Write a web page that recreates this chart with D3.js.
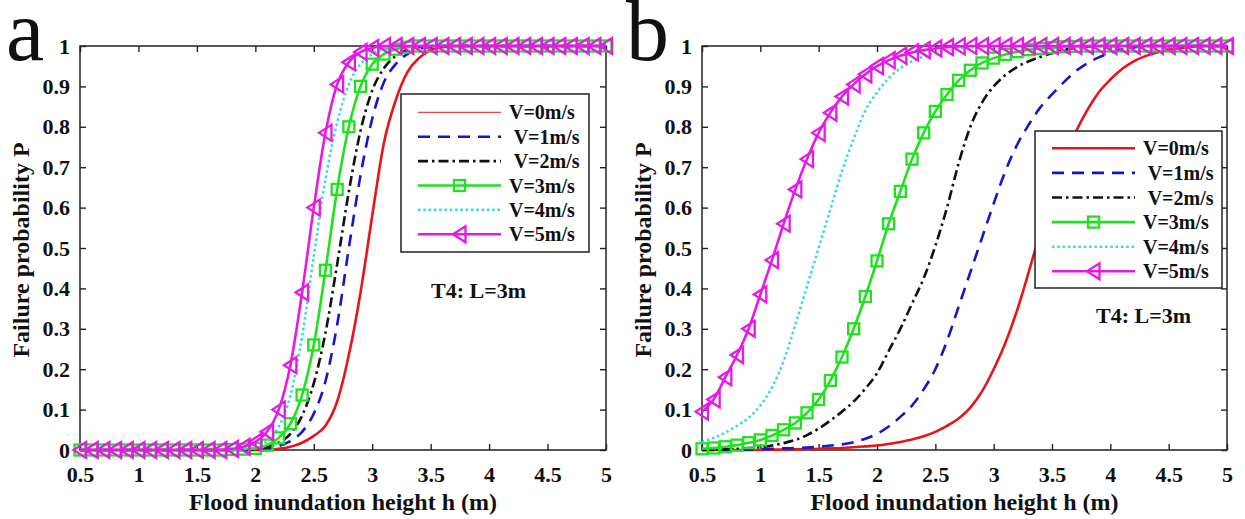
<!DOCTYPE html>
<html><head><meta charset="utf-8">
<script src="https://cdn.jsdelivr.net/npm/d3@7"></script>
<style>
body{margin:0;background:#fff}
svg{display:block}
text{font-family:"Liberation Serif","Times New Roman",serif;fill:#111}
</style>
</head><body><svg id="c" width="1245" height="519"></svg>
<script>
// ---------------- DATA ----------------
const H = [0.5,0.6,0.7,0.8,0.9,1.0,1.1,1.2,1.3,1.4,1.5,1.6,1.7,1.8,1.9,2.0,2.1,2.2,2.3,2.4,2.5,2.6,2.7,2.8,2.9,3.0,3.1,3.2,3.3,3.4,3.5,3.6,3.7,3.8,3.9,4.0,4.1,4.2,4.3,4.4,4.5,4.6,4.7,4.8,4.9,5.0];
const seriesLabels = ["V=0m/s"," V=1m/s"," V=2m/s","V=3m/s","V=4m/s","V=5m/s"];
const xTickValues = [0.5,1,1.5,2,2.5,3,3.5,4,4.5,5];
const xTickLabels = ["0.5","1","1.5","2","2.5","3","3.5","4","4.5","5"];
const yTickValues = [0,0.1,0.2,0.3,0.4,0.5,0.6,0.7,0.8,0.9,1];
const yTickLabels = ["0","0.1","0.2","0.3","0.4","0.5","0.6","0.7","0.8","0.9","1"];
const panelLetters = ["a","b"];
const xTitle = "Flood inundation height h (m)";
const yTitle = "Failure probability P";
const noteText = "T4: L=3m";

// panel a
const a_V0 = [0,0,0,0,0,0,0,0,0,0,0,0,0,0,0,0,0,0.003,0.008,0.018,0.035,0.06,0.12,0.235,0.39,0.58,0.76,0.865,0.935,0.97,0.99,0.997,1,1,1,1,1,1,1,1,1,1,1,1,1,1];
const a_V1 = [0,0,0,0,0,0,0,0,0,0,0,0,0,0,0,0,0.003,0.01,0.022,0.045,0.09,0.17,0.31,0.50,0.68,0.82,0.91,0.955,0.98,0.993,0.998,1,1,1,1,1,1,1,1,1,1,1,1,1,1,1];
const a_V2 = [0,0,0,0,0,0,0,0,0,0,0,0,0,0,0,0.002,0.007,0.018,0.04,0.085,0.165,0.29,0.46,0.64,0.79,0.89,0.945,0.975,0.99,0.997,1,1,1,1,1,1,1,1,1,1,1,1,1,1,1,1];
const a_V3 = [0,0,0,0,0,0,0,0,0,0,0,0,0,0.001,0.002,0.004,0.012,0.03,0.065,0.136,0.26,0.445,0.645,0.80,0.90,0.955,0.98,0.992,0.997,1,1,1,1,1,1,1,1,1,1,1,1,1,1,1,1,1];
const a_V4 = [0,0,0,0,0,0,0,0,0,0,0,0,0,0,0.003,0.008,0.022,0.058,0.135,0.28,0.48,0.67,0.81,0.905,0.955,0.98,0.993,0.998,1,1,1,1,1,1,1,1,1,1,1,1,1,1,1,1,1,1];
const a_V5 = [0,0,0,0,0,0,0,0,0,0,0,0,0,0.003,0.008,0.02,0.045,0.10,0.21,0.39,0.60,0.785,0.905,0.96,0.985,0.995,1,1,1,1,1,1,1,1,1,1,1,1,1,1,1,1,1,1,1,1];
// panel b
const b_V0 = [0,0,0,0,0,0,0.001,0.001,0.002,0.002,0.003,0.004,0.005,0.007,0.009,0.011,0.015,0.02,0.026,0.034,0.045,0.06,0.078,0.105,0.145,0.20,0.265,0.345,0.44,0.54,0.635,0.717,0.785,0.84,0.885,0.917,0.943,0.962,0.975,0.984,0.99,0.995,0.998,1,1,1];
const b_V1 = [0,0,0.001,0.001,0.001,0.002,0.003,0.004,0.005,0.006,0.008,0.011,0.014,0.019,0.028,0.04,0.058,0.082,0.11,0.15,0.20,0.27,0.355,0.44,0.525,0.61,0.69,0.755,0.805,0.848,0.88,0.91,0.937,0.957,0.972,0.983,0.991,0.996,1,1,1,1,1,1,1,1];
const b_V2 = [0.001,0.001,0.002,0.003,0.005,0.007,0.011,0.017,0.025,0.037,0.053,0.073,0.095,0.12,0.152,0.19,0.245,0.30,0.362,0.425,0.505,0.60,0.71,0.80,0.86,0.90,0.928,0.948,0.962,0.973,0.982,0.99,0.995,0.998,1,1,1,1,1,1,1,1,1,1,1,1];
const b_V3 = [0.003,0.005,0.008,0.012,0.018,0.025,0.036,0.05,0.067,0.092,0.125,0.172,0.23,0.30,0.38,0.468,0.56,0.64,0.72,0.785,0.838,0.88,0.915,0.94,0.958,0.97,0.979,0.986,0.991,0.994,0.996,0.998,0.999,1,1,1,1,1,1,1,1,1,1,1,1,1];
const b_V4 = [0.02,0.03,0.043,0.06,0.08,0.11,0.155,0.22,0.31,0.405,0.50,0.595,0.69,0.77,0.84,0.885,0.92,0.945,0.962,0.974,0.982,0.988,0.993,0.996,0.998,1,1,1,1,1,1,1,1,1,1,1,1,1,1,1,1,1,1,1,1,1];
const b_V5 = [0.095,0.125,0.18,0.235,0.30,0.385,0.47,0.56,0.645,0.72,0.785,0.835,0.875,0.905,0.93,0.95,0.965,0.976,0.984,0.99,0.994,0.997,0.999,1,1,1,1,1,1,1,1,1,1,1,1,1,1,1,1,1,1,1,1,1,1,1];

// ---------------- STYLES ----------------
const styles = [
  {color:"#e8141a", dash:null, marker:null},
  {color:"#1717c8", dash:"12,8", marker:null},
  {color:"#111111", dash:"10,4,2.5,4", marker:null},
  {color:"#1ee21e", dash:null, marker:"square"},
  {color:"#3cd8e0", dash:"2.5,2.8", marker:null},
  {color:"#e619e6", dash:null, marker:"tri"}
];

const svg = d3.select("#c");

function drawMarker(g, type, color, x, y){
  if(type==="square"){
    g.append("rect").attr("x",x-5.5).attr("y",y-5.5).attr("width",11).attr("height",11)
      .attr("fill","none").attr("stroke",color).attr("stroke-width",2.3);
  } else if(type==="tri"){
    g.append("path").attr("d",`M${x-6.5},${y} L${x+6},${y-8} L${x+6},${y+8} Z`)
      .attr("fill","none").attr("stroke",color).attr("stroke-width",2.3).attr("stroke-linejoin","miter");
  }
}

function drawPanel(cfg){
  const x = d3.scaleLinear().domain([0.5,5]).range([cfg.left,cfg.right]);
  const y = d3.scaleLinear().domain([0,1]).range([cfg.bottom,cfg.top]);
  const g = svg.append("g");

  const fmtX = d => xTickLabels[xTickValues.indexOf(d)];
  const fmtY = d => yTickLabels[yTickValues.indexOf(d)];
  const axB = g.append("g").attr("transform",`translate(0,${cfg.bottom})`)
    .call(d3.axisBottom(x).tickValues(xTickValues).tickFormat(fmtX).tickSize(-6).tickPadding(16));
  const axL = g.append("g").attr("transform",`translate(${cfg.left},0)`)
    .call(d3.axisLeft(y).tickValues(yTickValues).tickFormat(fmtY).tickSize(-6).tickPadding(10));
  const axT = g.append("g").attr("transform",`translate(0,${cfg.top})`)
    .call(d3.axisTop(x).tickValues(xTickValues).tickFormat("").tickSize(-6));
  const axR = g.append("g").attr("transform",`translate(${cfg.right},0)`)
    .call(d3.axisRight(y).tickValues(yTickValues).tickFormat("").tickSize(-6));
  [axB,axL,axT,axR].forEach(a=>{
    a.select(".domain").remove();
    a.selectAll("line").attr("stroke","#222").attr("stroke-width",1.4);
    a.selectAll("text").attr("font-size",22).attr("font-weight","bold").attr("fill","#111")
      .style("font-family",'"Liberation Serif","Times New Roman",serif');
  });
  g.append("rect").attr("x",cfg.left).attr("y",cfg.top)
    .attr("width",cfg.right-cfg.left).attr("height",cfg.bottom-cfg.top)
    .attr("fill","none").attr("stroke","#222").attr("stroke-width",1.5);

  const line = d3.line().x((d,i)=>x(H[i])).y(d=>y(d)).curve(d3.curveMonotoneX);
  cfg.series.forEach((vals,k)=>{
    const s = styles[k];
    g.append("path").datum(vals).attr("d",line).attr("fill","none")
      .attr("stroke",s.color).attr("stroke-width",2.6)
      .attr("stroke-dasharray",s.dash).attr("stroke-linecap","butt");
    if(s.marker){
      const mg = g.append("g");
      vals.forEach((v,i)=>drawMarker(mg,s.marker,s.color,x(H[i]),y(v)));
    }
  });

  const L = cfg.legend;
  g.append("rect").attr("x",L.x0).attr("y",L.y0).attr("width",L.x1-L.x0).attr("height",L.y1-L.y0)
    .attr("fill","#fff").attr("stroke","#222").attr("stroke-width",1.5);
  seriesLabels.forEach((lab,k)=>{
    const s = styles[k];
    const yy = L.row0 + k*L.dy;
    g.append("line").attr("x1",L.s0).attr("x2",L.s1).attr("y1",yy).attr("y2",yy)
      .attr("stroke",s.color).attr("stroke-width",(k===0?L.w0:2.6))
      .attr("stroke-dasharray",s.dash);
    if(s.marker) drawMarker(g,s.marker,s.color,(L.s0+L.s1)/2,yy);
    g.append("text").attr("x",L.tx).attr("y",yy+7).attr("font-size",20).attr("font-weight","bold")
      .style("white-space","pre").text(lab);
  });

  g.append("text").attr("x",cfg.note[0]).attr("y",cfg.note[1]).attr("font-size",22)
    .attr("font-weight","bold").text(noteText);

  g.append("text").attr("x",(cfg.left+cfg.right)/2).attr("y",510).attr("text-anchor","middle")
    .attr("font-size",24).attr("font-weight","bold").text(xTitle);
  g.append("text").attr("transform",`translate(${cfg.left-51},${(cfg.top+cfg.bottom)/2+2}) rotate(-90)`)
    .attr("text-anchor","middle").attr("font-size",24).attr("font-weight","bold").text(yTitle);

  g.append("text").attr("x",cfg.letterX).attr("y",60).attr("font-size",86).text(cfg.letter);
}

drawPanel({left:80,right:606,top:46,bottom:450,
  series:[a_V0,a_V1,a_V2,a_V3,a_V4,a_V5],
  legend:{x0:401,x1:589,y0:94,y1:252,row0:112.3,dy:24.4,s0:418,s1:501,tx:509,w0:1},
  note:[431,298], letter:panelLetters[0], letterX:6});
drawPanel({left:702,right:1227,top:46,bottom:450,
  series:[b_V0,b_V1,b_V2,b_V3,b_V4,b_V5],
  legend:{x0:1035,x1:1222,y0:131,y1:288,row0:148.3,dy:24.6,s0:1052,s1:1135,tx:1143,w0:2.6},
  note:[1096,323], letter:panelLetters[1], letterX:626});
</script>
</body></html>
